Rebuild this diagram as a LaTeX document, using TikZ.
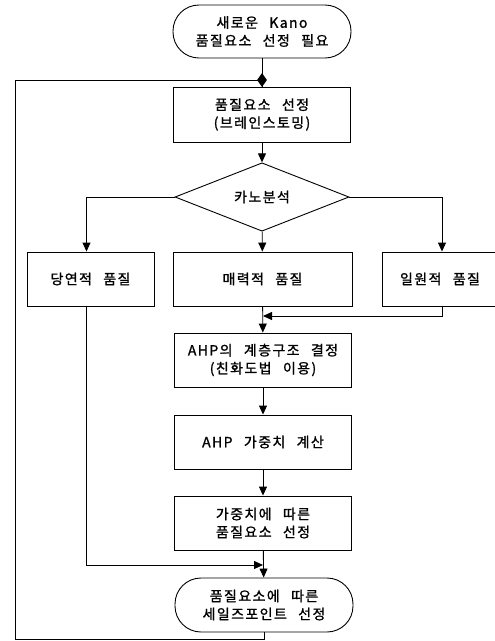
\documentclass[tikz,border=0pt]{standalone}
\usepackage{fontspec}
\setmainfont{Noto Sans CJK KR}[LetterSpace=10,WordSpace=2.5,FakeBold=1.2]
\usetikzlibrary{shapes.geometric,arrows.meta}
\tikzset{
  base/.style={draw=black,line width=0.9pt,inner sep=0pt,align=center,
    font=\fontsize{14}{18}\selectfont},
  procbox/.style={base,rectangle,minimum height=54pt},
  term/.style={base,rectangle,rounded corners=26pt,minimum height=53pt},
  decision/.style={base,diamond,minimum width=174pt,minimum height=54pt},
  conn/.style={line width=0.9pt},
  arr/.style={conn,-{Triangle[length=9pt,width=8pt]}},
  mergept/.style={diamond,fill=black,inner sep=0pt,minimum width=10pt,minimum height=14pt}
}
\begin{document}
\begin{tikzpicture}[x=1pt,y=-1pt]
\useasboundingbox (0,0) rectangle (495,641);
\node[term,minimum width=178pt] (start) at (262,31.5) {새로운 Kano\\품질요소 선정 필요};
\node[procbox,minimum width=177pt,minimum height=55pt] (box1) at (262,114.5) {품질요소 선정\\(브레인스토밍)};
\node[decision] (dia) at (262,197) {카노분석};
\node[procbox,minimum width=127pt] (lbox) at (90.5,279) {당연적 품질};
\node[procbox,minimum width=179pt] (mbox) at (262.5,279) {매력적 품질};
\node[procbox,minimum width=116pt] (rbox) at (440,279) {일원적 품질};
\node[procbox,minimum width=177pt] (ahp) at (263,360) {AHP의 계층구조 결정\\(친화도법 이용)};
\node[procbox,minimum width=177pt] (wcalc) at (263,442) {AHP 가중치 계산};
\node[procbox,minimum width=177pt] (wsel) at (263,523) {가중치에 따른\\품질요소 선정};
\node[term,minimum width=178pt,minimum height=54pt] (end) at (264,605) {품질요소에 따른\\세일즈포인트 선정};
\coordinate (K) at (263,316);
\coordinate (L) at (263,565);
\coordinate (loopbl) at (15,639.5);
\draw[conn] (start.south) -- (box1.north);
\draw[conn] (end.south) |- (loopbl) |- (262,80);
\node[mergept] (merge) at (262,80) {};
\draw[arr] (box1) -- (dia);
\draw[arr] (dia.west) -| ([xshift=-4pt]lbox.north);
\draw[arr] (dia.east) -| ([xshift=2pt]rbox.north);
\draw[arr] (dia) -- (mbox);
\draw[arr] (mbox) -- (ahp);
\draw[arr] ([xshift=2pt]rbox.south) |- (K);
\draw[arr] (ahp) -- (wcalc);
\draw[arr] (wcalc) -- (wsel);
\draw[arr] ([xshift=-4pt]lbox.south) |- (L);
\draw[arr] (wsel) -- (end);
\end{tikzpicture}
\end{document}
